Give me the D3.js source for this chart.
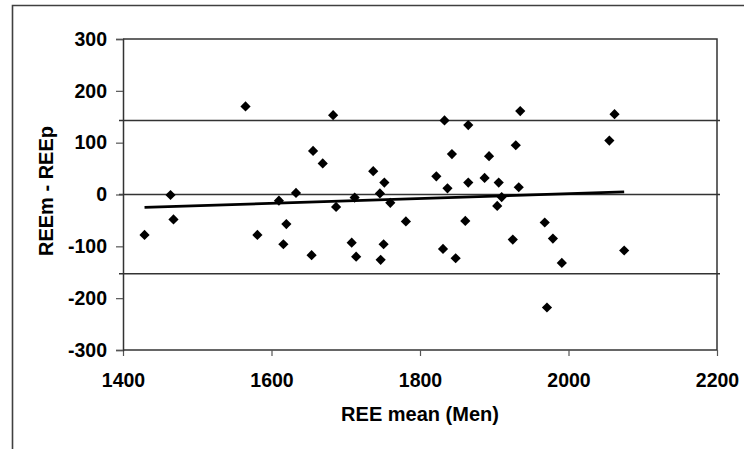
<!DOCTYPE html>
<html>
<head>
<meta charset="utf-8">
<script src="https://cdn.jsdelivr.net/npm/d3@7"></script>
<style>
  body { margin: 0; background: #fff; }
  text { font-family: "Liberation Sans", Arial, sans-serif; font-weight: bold; fill: #000; }
</style>
</head>
<body>
<div id="chart"></div>
<script>
// data
const reeMean = [1565, 1464, 1468, 1429, 1581, 1610, 1620, 1616, 1633, 1683,
                 1833, 1865, 1656, 1669, 1737, 1752, 1746, 1712, 1687, 1760,
                 1781, 1822, 1843, 1837, 1861, 1654, 1708, 1714, 1751, 1747,
                 1831, 1848, 1935, 2062, 2055, 1929, 1893, 1887, 1865, 1906,
                 1933, 1910, 1904, 1968, 1925, 1979, 1991, 2075, 1971];
const reeDiff = [170, -1, -48, -78, -78, -12, -57, -96, 3, 153,
                 143, 134, 84, 60, 45, 23, 2, -6, -24, -16,
                 -52, 35, 78, 12, -51, -117, -93, -120, -96, -126,
                 -105, -123, 161, 155, 104, 95, 74, 32, 23, 23,
                 14, -5, -22, -54, -87, -85, -132, -108, -218];
const limitLines = [143, 0, -153];   // upper limit, zero, lower limit
const trendSlope = 0.04644;
const trendIntercept = -91.36;
const xTicks = [1400, 1600, 1800, 2000, 2200];
const yTicks = [300, 200, 100, 0, -100, -200, -300];

const width = 744;
const height = 449;
const plot = {left: 123, right: 717, top: 39, bottom: 350};

const svg = d3.select('div#chart').append('svg').attr('width', width).attr('height', height);
svg.append('rect').attr('width', width).attr('height', height).attr('fill', '#fff');

// outer frame (only top and left visible)
svg.append('path')
    .attr('d', `M12.5,${height} V5.5 H${width}`)
    .attr('fill', 'none').attr('stroke', '#404040').attr('stroke-width', 1.6);

const x = d3.scaleLinear().domain([1400, 2200]).range([plot.left, plot.right]);
const y = d3.scaleLinear().domain([-300, 300]).range([plot.bottom, plot.top]);

// plot area frame top / right
svg.append('path')
    .attr('d', `M${plot.left},${plot.top} H${plot.right} V${plot.bottom}`)
    .attr('fill', 'none').attr('stroke', '#333').attr('stroke-width', 1.5);

// limit lines
svg.selectAll('line.limit').data(limitLines).enter()
    .append('line').attr('class', 'limit')
    .attr('x1', plot.left - 4).attr('x2', plot.right + 3)
    .attr('y1', d => y(d)).attr('y2', d => y(d))
    .attr('stroke', '#333').attr('stroke-width', 1.5);

const fmt = d => String(d);
const xAxis = d3.axisBottom(x).tickValues(xTicks).tickSize(6).tickPadding(17).tickFormat(fmt);
const yAxis = d3.axisLeft(y).tickValues(yTicks).tickSize(7).tickPadding(9).tickFormat(fmt);

const xAxisGroup = svg.append('g').attr('transform', `translate(0,${plot.bottom})`).call(xAxis);
const yAxisGroup = svg.append('g').attr('transform', `translate(${plot.left},0)`).call(yAxis);

[xAxisGroup, yAxisGroup].forEach(g => {
    g.attr('font-size', null).attr('font-family', null);
    g.select('.domain').attr('stroke', '#333').attr('stroke-width', 1.5);
    g.selectAll('.tick line').attr('stroke', '#555').attr('stroke-width', 1.2);
    g.selectAll('.tick text')
        .style('font-size', '19.5px')
        .style('font-family', '"Liberation Sans", Arial, sans-serif')
        .style('font-weight', 'bold').attr('fill', '#000');
});
xAxisGroup.selectAll('.domain').attr('d', `M${plot.left},0H${plot.right}`);

// trend line
const xExt = d3.extent(reeMean);
svg.append('line')
    .attr('x1', x(xExt[0])).attr('x2', x(xExt[1]))
    .attr('y1', y(trendIntercept + trendSlope * xExt[0]))
    .attr('y2', y(trendIntercept + trendSlope * xExt[1]))
    .attr('stroke', '#000').attr('stroke-width', 2.8);

// points
const points = reeMean.map((d, i) => ({mean: d, diff: reeDiff[i]}));
const diamond = d3.symbol().type(d3.symbolSquare).size(52);
svg.selectAll('path.pt').data(points).enter()
    .append('path').attr('class', 'pt')
    .attr('d', diamond)
    .attr('transform', d => `translate(${x(d.mean)},${y(d.diff)}) rotate(45)`)
    .attr('fill', '#000');

// titles
svg.append('text').text('REE mean (Men)')
    .attr('x', (plot.left + plot.right) / 2).attr('y', 421)
    .attr('text-anchor', 'middle').style('font-size', '20px');

svg.append('text').text('REEm - REEp')
    .attr('transform', `translate(53,191) rotate(-90)`)
    .attr('text-anchor', 'middle').style('font-size', '20px');
</script>
</body>
</html>
